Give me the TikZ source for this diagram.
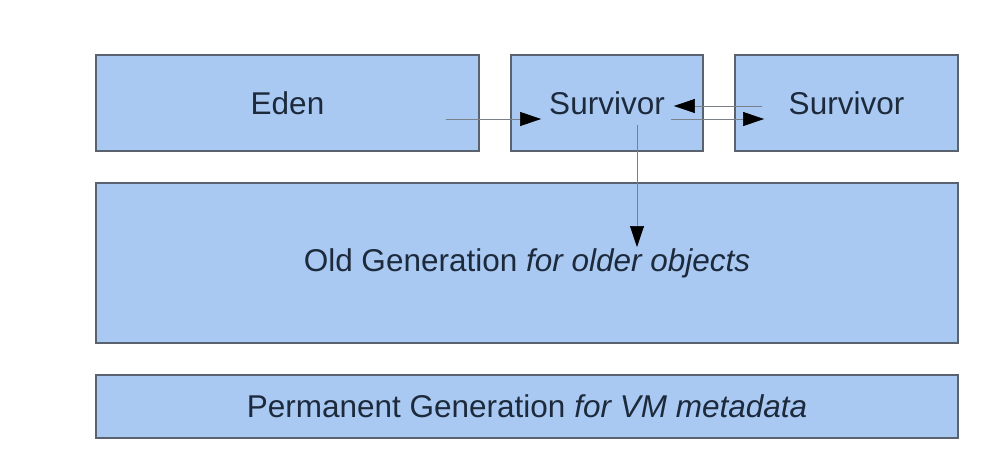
\documentclass[tikz,border=0pt]{standalone}
\usepackage{fontspec}
\setmainfont{Liberation Sans}
\usetikzlibrary{arrows.meta,positioning}
\definecolor{boxfill}{HTML}{A9C9F2}
\definecolor{boxline}{HTML}{5A6270}
\definecolor{txt}{HTML}{1C2A3C}
\definecolor{arr}{HTML}{7A808A}
\tikzset{
  genbox/.style={draw=boxline, line width=1.8pt, fill=boxfill, rectangle, inner sep=0pt, text=txt, font=\fontsize{31.5}{36}\selectfont},
  flow/.style={draw=arr, line width=0.6pt, -{Triangle[length=21pt,width=14pt,fill=black,color=black]}}
}
\begin{document}
\begin{tikzpicture}[x=1pt,y=-1pt]
\useasboundingbox (0,0) rectangle (990,474);
\node[genbox, minimum width=383pt, minimum height=96pt] (eden) at (287.5,103) {Eden};
\node[genbox, minimum width=192pt, minimum height=96pt] (s1) at (607,103) {Survivor};
\node[genbox, minimum width=223pt, minimum height=96pt] (s2) at (846.5,103) {Survivor};
\node[genbox, minimum width=862pt, minimum height=160pt] (old) at (527,263) {Old Generation \textit{for older objects}};
\node[genbox, minimum width=862pt, minimum height=63pt] (perm) at (527,406.5) {Permanent Generation \textit{for VM metadata}};
\coordinate (e1) at ([xshift=-34pt,yshift=-16pt]eden.east);
\coordinate (s1a) at ([xshift=-30pt,yshift=-3pt]s1.east);
\coordinate (s1b) at ([xshift=-33pt,yshift=-16pt]s1.east);
\coordinate (s2a) at ([xshift=28pt,yshift=-3pt]s2.west);
\coordinate (s2b) at ([xshift=30pt,yshift=-16pt]s2.west);
\coordinate (s1d) at ([xshift=30pt,yshift=-22pt]s1.center);
\coordinate (oldin) at ([yshift=16pt]old.center);
\draw[flow] (e1) -- ([xshift=31pt]s1.west |- e1);
\draw[flow] (s2a) -- (s1a);
\draw[flow] (s1b) -- (s2b);
\draw[flow] (s1d) -- (s1d |- oldin);
\end{tikzpicture}
\end{document}
